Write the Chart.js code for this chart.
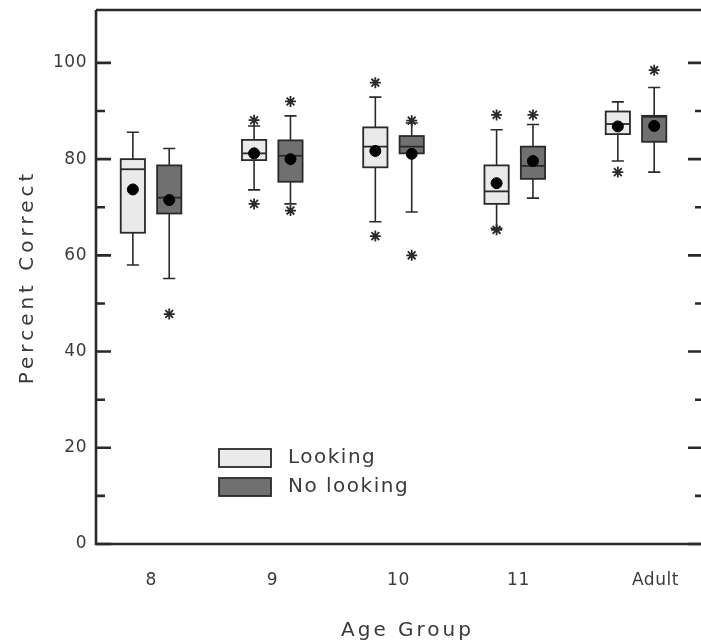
<!DOCTYPE html>
<html>
<head>
<meta charset="utf-8">
<title>Percent Correct by Age Group</title>
<script src="https://cdn.jsdelivr.net/npm/chart.js@4.4.1/dist/chart.umd.min.js"></script>
<style>
  html, body { margin: 0; padding: 0; background: #fff; }
</style>
</head>
<body>
<canvas id="chart" width="701" height="644"></canvas>
<script>
const groups = ['8', '9', '10', '11', 'Adult'];
const seriesNames = ['Looking', 'No looking'];

// Looking
const lookLow     = [58.0, 73.6, 67.0, 65.6, 79.6];
const lookQ1      = [64.7, 79.8, 78.3, 70.7, 85.2];
const lookMedian  = [77.9, 81.2, 82.6, 73.3, 87.3];
const lookQ3      = [80.0, 84.0, 86.6, 78.7, 89.9];
const lookHigh    = [85.6, 86.9, 92.9, 86.1, 91.9];
const lookMean    = [73.7, 81.2, 81.7, 75.0, 86.8];
const lookOutliers = [[], [88.1, 70.7], [95.9, 64.0], [89.2, 65.3], [77.3]];

// No looking
const noLow     = [55.2, 70.7, 69.0, 71.9, 77.3];
const noQ1      = [68.7, 75.3, 81.2, 75.9, 83.6];
const noMedian  = [72.0, 80.7, 82.6, 78.6, 88.8];
const noQ3      = [78.7, 83.9, 84.8, 82.6, 89.0];
const noHigh    = [82.2, 89.0, 87.5, 87.2, 94.9];
const noMean    = [71.5, 80.0, 81.1, 79.6, 86.9];
const noOutliers = [[47.8], [92.0, 69.3], [88.0, 60.0], [89.2], [98.5]];

const yTicks = [0, 10, 20, 30, 40, 50, 60, 70, 80, 90, 100];

// layout settings (x in group units)
const xLabelPos = [1.0, 2.0, 3.04, 4.03, 5.16];
const boxShift = 0.15, boxHalf = 0.1, capHalf = 0.05;
const fills = ['#e9eae9', '#707070'];
const ink = '#2a2a2a';
const textColor = '#3a3a3a';

const boxes = [
  {low: lookLow, q1: lookQ1, med: lookMedian, q3: lookQ3, high: lookHigh, shift: -boxShift, fill: fills[0]},
  {low: noLow, q1: noQ1, med: noMedian, q3: noQ3, high: noHigh, shift: boxShift, fill: fills[1]}
];

function meanPoints(means, shift) {
  return means.map((m, i) => ({x: i + 1 + shift, y: m}));
}
function outlierPoints(outs, shift) {
  let pts = [];
  outs.forEach((list, i) => list.forEach(v => pts.push({x: i + 1 + shift, y: v})));
  return pts;
}

const boxPlugin = {
  id: 'boxes',
  beforeDraw(chart) {
    chart.ctx.letterSpacing = '0.5px';
  },
  beforeDatasetsDraw(chart) {
    const {ctx, scales: {x, y}} = chart;
    ctx.save();
    ctx.strokeStyle = ink;
    boxes.forEach(b => {
      b.q1.forEach((q1, i) => {
        const c = x.getPixelForValue(i + 1 + b.shift);
        const xl = x.getPixelForValue(i + 1 + b.shift - boxHalf);
        const xr = x.getPixelForValue(i + 1 + b.shift + boxHalf);
        const cl = x.getPixelForValue(i + 1 + b.shift - capHalf);
        const cr = x.getPixelForValue(i + 1 + b.shift + capHalf);
        const yLow = y.getPixelForValue(b.low[i]);
        const yHigh = y.getPixelForValue(b.high[i]);
        const yQ1 = y.getPixelForValue(q1);
        const yQ3 = y.getPixelForValue(b.q3[i]);
        const yMed = y.getPixelForValue(b.med[i]);
        // whiskers
        ctx.lineWidth = 1.6;
        ctx.beginPath();
        ctx.moveTo(c, yLow); ctx.lineTo(c, yHigh);
        ctx.moveTo(cl, yLow); ctx.lineTo(cr, yLow);
        ctx.moveTo(cl, yHigh); ctx.lineTo(cr, yHigh);
        ctx.stroke();
        // box
        ctx.fillStyle = b.fill;
        ctx.fillRect(xl, yQ3, xr - xl, yQ1 - yQ3);
        ctx.lineWidth = 1.8;
        ctx.strokeRect(xl, yQ3, xr - xl, yQ1 - yQ3);
        // median
        ctx.beginPath();
        ctx.moveTo(xl, yMed); ctx.lineTo(xr, yMed);
        ctx.stroke();
      });
    });
    ctx.restore();
  },
  afterDraw(chart) {
    const {ctx, chartArea: a, scales: {x, y}} = chart;
    ctx.save();
    ctx.strokeStyle = ink;
    ctx.lineWidth = 2.6;
    // frame: left, top, bottom
    ctx.beginPath();
    ctx.moveTo(a.left, a.top); ctx.lineTo(a.left, a.bottom); ctx.lineTo(a.right, a.bottom);
    ctx.moveTo(a.left, a.top); ctx.lineTo(a.right, a.top);
    ctx.stroke();
    // inward ticks on both sides
    yTicks.forEach(v => {
      const py = y.getPixelForValue(v);
      const major = v % 20 === 0;
      ctx.beginPath();
      ctx.moveTo(a.left, py); ctx.lineTo(a.left + (major ? 15 : 9), py);
      ctx.moveTo(a.right, py); ctx.lineTo(a.right - (major ? 13 : 6), py);
      ctx.stroke();
    });
    // axis titles
    ctx.fillStyle = textColor;
    ctx.font = '20px "DejaVu Sans"';
    ctx.letterSpacing = '3px';
    ctx.textAlign = 'center';
    ctx.textBaseline = 'middle';
    ctx.fillText('Age Group', (a.left + a.right) / 2 + 9, 631);
    ctx.save();
    ctx.translate(28, (a.top + a.bottom) / 2);
    ctx.rotate(-Math.PI / 2);
    ctx.letterSpacing = '4px';
    ctx.fillText('Percent Correct', 0, 0);
    ctx.restore();
    // legend
    ctx.font = '20px "DejaVu Sans"';
    ctx.letterSpacing = '1.5px';
    ctx.textAlign = 'left';
    seriesNames.forEach((name, k) => {
      const top = 449 + k * 29;
      ctx.fillStyle = fills[k];
      ctx.fillRect(219, top, 52, 18);
      ctx.lineWidth = 1.8;
      ctx.strokeRect(219, top, 52, 18);
      ctx.fillStyle = textColor;
      ctx.fillText(name, 288, top + 9);
    });
    ctx.restore();
  }
};

new Chart(document.getElementById('chart'), {
  type: 'scatter',
  data: {
    datasets: [
      {label: 'Looking mean', data: meanPoints(lookMean, -boxShift), pointStyle: 'circle', pointRadius: 5.5, backgroundColor: '#000', borderColor: '#000'},
      {label: 'No looking mean', data: meanPoints(noMean, boxShift), pointStyle: 'circle', pointRadius: 5.5, backgroundColor: '#000', borderColor: '#000'},
      {label: 'Looking outliers', data: outlierPoints(lookOutliers, -boxShift), pointStyle: 'star', pointRadius: 5.5, borderWidth: 1.8, borderColor: ink, backgroundColor: ink},
      {label: 'No looking outliers', data: outlierPoints(noOutliers, boxShift), pointStyle: 'star', pointRadius: 5.5, borderWidth: 1.8, borderColor: ink, backgroundColor: ink}
    ]
  },
  options: {
    responsive: false,
    animation: false,
    layout: {autoPadding: false, padding: {left: 0, top: 10, right: 0, bottom: 0}},
    plugins: {legend: {display: false}, tooltip: {enabled: false}},
    scales: {
      x: {
        type: 'linear',
        min: 0.546,
        max: 5.536,
        afterBuildTicks: s => { s.ticks = xLabelPos.map(v => ({value: v})); },
        afterFit: s => { s.height = 100; s.paddingLeft = 0; s.paddingRight = 0; },
        grid: {display: false, drawTicks: false},
        border: {display: false},
        ticks: {
          autoSkip: false,
          maxRotation: 0,
          padding: 26,
          color: textColor,
          font: {family: 'DejaVu Sans', size: 17},
          callback: (v, i) => groups[i]
        }
      },
      y: {
        min: 0,
        max: 111,
        afterBuildTicks: s => { s.ticks = yTicks.map(v => ({value: v})); },
        afterFit: s => { s.width = 96; s.paddingTop = 0; s.paddingBottom = 0; },
        grid: {display: false, drawTicks: false},
        border: {display: false},
        ticks: {
          padding: 9,
          color: textColor,
          font: {family: 'DejaVu Sans', size: 17},
          callback: v => (v % 20 === 0 ? v : '')
        }
      }
    }
  },
  plugins: [boxPlugin]
});
</script>
</body>
</html>
